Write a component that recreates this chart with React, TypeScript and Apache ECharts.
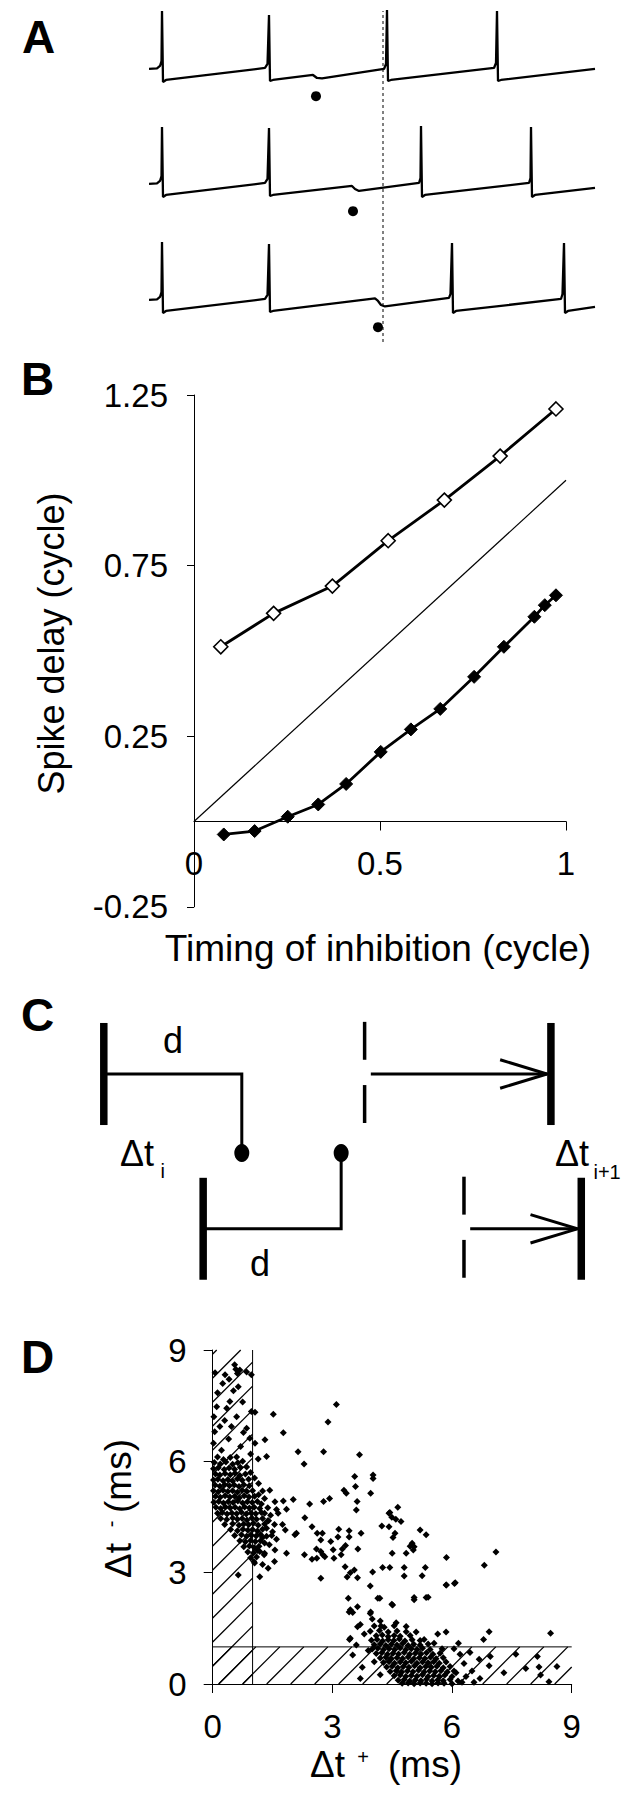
import React, { useEffect, useRef } from "react";
import * as echarts from "echarts";

const FONT = '"Liberation Sans", Arial, Helvetica, sans-serif';
const INK = "#000";

// ---------------- Panel A: membrane potential traces (time ms, V mV) ----------------
const traceTop: number[][] = [
  [0, -49.4], [2, -48.8], [2.75, -45.8], [3.125, -39.8], [3.25, 20.2], [3.5, -65], [4.25, -62.6],
  [29, -48.2], [29.625, -43.4], [30, 15.4], [30.25, -63.8], [31, -62.6],
  [41, -56.6], [42, -60.2], [43.25, -60.8],
  [58.75, -49.4], [59.25, -43.4], [59.5, 21.4], [59.75, -63.8], [60.5, -62.6],
  [86.25, -48.2], [86.75, -42.2], [87, 20.2], [87.25, -63.8], [88, -62.6], [111.5, -49.4],
];
const traceMiddle: number[][] = [
  [0, -49.4], [2, -48.8], [2.75, -45.8], [3.125, -39.8], [3.25, 19], [3.5, -65], [4.25, -62.6],
  [29, -48.2], [29.625, -43.4], [30, 17.8], [30.25, -63.8], [31, -62.6],
  [50.75, -51.8], [51.5, -55.4], [52.5, -57.8],
  [67.5, -48.2], [67.875, -42.2], [68, 20.2], [68.25, -65], [69, -62.6],
  [95, -48.2], [95.375, -42.2], [95.5, 19], [95.75, -65], [96.5, -62.6], [111.5, -54.2],
];
const traceBottom: number[][] = [
  [0, -49.4], [2, -48.8], [2.75, -45.8], [3.125, -39.8], [3.25, 20.2], [3.5, -65], [4.25, -62.6],
  [29, -48.2], [29.625, -43.4], [30, 17.8], [30.25, -63.8], [31, -62.6],
  [56.5, -47.6], [57.25, -50.6], [58, -55.4], [59, -57.2],
  [75, -47], [75.375, -42.2], [75.75, 19], [76, -65], [76.75, -62.6],
  [103, -48.2], [103.375, -42.2], [103.75, 19], [104, -65], [104.75, -62.6], [111.5, -57.8],
];
const inhibitionTimes = [41.75, 51, 57.25];
const inhibitionMarkLevel = -82;
const referenceSpikeTime = 58.5;

// ---------------- Panel B: phase response ----------------
const phaseOpen = [0.072, 0.214, 0.372, 0.522, 0.673, 0.823, 0.973];
const delayOpen = [0.512, 0.61, 0.69, 0.823, 0.942, 1.071, 1.209];
const phaseFilled = [0.08, 0.163, 0.252, 0.334, 0.409, 0.502, 0.583, 0.662, 0.753, 0.833, 0.915, 0.943, 0.973];
const delayFilled = [-0.038, -0.028, 0.014, 0.05, 0.11, 0.204, 0.27, 0.33, 0.424, 0.512, 0.6, 0.634, 0.663];
const identityLine = [[0, 0], [1, 1]];
const bYTicks = [-0.25, 0.25, 0.75, 1.25];

// ---------------- Panel C: schematic (time units, row levels) ----------------
const cRows = [1, 0.02];
const cSpikes = [0, 7.2];
const cDelay = 10;
const cSynapse = 0.5;
const cExpected = [18.9, 26.1];
const cActual = [32.4, 34.6];

// ---------------- Panel D: scatter (ms) ----------------
const dStripTop: number[][] = [
  [0.06, 8.39], [0.31, 8.33], [0.41, 8.21], [0.58, 8.48], [0.62, 8.37], [0.68, 8.46], [0.85, 8.41],
  [0.64, 8.01], [0.97, 8.33], [0.1, 7.47], [0.35, 7.43], [0.43, 7.61], [0.47, 6.94], [0.18, 6.94],
  [0.85, 6.89], [0.77, 6.78], [0.97, 7.34], [1.06, 7.32], [0.02, 6.49], [0.93, 6.62], [1.06, 6.49],
  [0.25, 8.1], [0.52, 7.9], [0.12, 7.85], [0.75, 7.6], [0.3, 7.1], [0.6, 7.2], [0.05, 6.8],
  [0.4, 6.6], [0.7, 6.4], [0.95, 6.2], [0.22, 6.3], [0.55, 8.6], [0.03, 7.2],
  [1.52, 7.27], [1.77, 6.77], [1.31, 6.58], [1.35, 6.13], [1.14, 6.06], [2.14, 6.26], [2.29, 5.93],
  [2.78, 6.26], [2.89, 7.06], [3.1, 7.53], [3.68, 6.18],
];
const dClusterEarly: number[][] = [
  [0.12, 6.12], [0.27, 6.05], [0.44, 6.1],
  [0.04, 5.97], [0.19, 5.93], [0.33, 5.98], [0.5, 5.92], [0.63, 5.96],
  [0.02, 5.8], [0.14, 5.83], [0.29, 5.78], [0.41, 5.82], [0.55, 5.79], [0.69, 5.84],
  [0.07, 5.66], [0.18, 5.63], [0.31, 5.67], [0.44, 5.64], [0.56, 5.68], [0.68, 5.62], [0.82, 5.66],
  [0.02, 5.5], [0.13, 5.52], [0.26, 5.48], [0.38, 5.51], [0.5, 5.47], [0.62, 5.53], [0.74, 5.49], [0.9, 5.52],
  [0.06, 5.36], [0.18, 5.33], [0.3, 5.37], [0.42, 5.34], [0.54, 5.36], [0.66, 5.32], [0.78, 5.37], [0.92, 5.34],
  [0.02, 5.21], [0.14, 5.18], [0.26, 5.22], [0.38, 5.19], [0.5, 5.21], [0.62, 5.17], [0.74, 5.22], [0.86, 5.19], [1.0, 5.21],
  [0.07, 5.06], [0.19, 5.03], [0.31, 5.07], [0.43, 5.04], [0.55, 5.06], [0.67, 5.02], [0.79, 5.07], [0.91, 5.04], [1.05, 5.06],
  [0.03, 4.9], [0.15, 4.92], [0.27, 4.88], [0.39, 4.91], [0.51, 4.89], [0.63, 4.93], [0.75, 4.88], [0.87, 4.91], [0.99, 4.89], [1.12, 4.92],
  [0.08, 4.76], [0.2, 4.73], [0.32, 4.77], [0.44, 4.74], [0.56, 4.76], [0.68, 4.72], [0.8, 4.77], [0.92, 4.74], [1.04, 4.76], [1.18, 4.73],
  [0.12, 4.6], [0.24, 4.62], [0.36, 4.58], [0.48, 4.61], [0.6, 4.59], [0.72, 4.63], [0.84, 4.58], [0.96, 4.61], [1.08, 4.59], [1.22, 4.62],
  [0.2, 4.46], [0.35, 4.43], [0.5, 4.47], [0.62, 4.44], [0.74, 4.46], [0.86, 4.42], [0.98, 4.47], [1.1, 4.44], [1.25, 4.46],
  [0.3, 4.3], [0.5, 4.32], [0.66, 4.28], [0.78, 4.31], [0.9, 4.29], [1.02, 4.33], [1.14, 4.28], [1.3, 4.31],
  [0.45, 4.16], [0.62, 4.13], [0.76, 4.17], [0.88, 4.14], [1.0, 4.16], [1.12, 4.12], [1.25, 4.17],
  [0.55, 4.0], [0.72, 4.02], [0.85, 3.98], [0.97, 4.01], [1.09, 3.99], [1.2, 4.03], [1.35, 3.98],
  [0.68, 3.86], [0.82, 3.83], [0.95, 3.87], [1.07, 3.84], [1.2, 3.86],
  [0.78, 3.7], [0.92, 3.72], [1.04, 3.68], [1.16, 3.71],
  [0.88, 3.56], [1.02, 3.53], [1.18, 3.57], [1.3, 3.52],
  [0.95, 3.4], [1.1, 3.42], [1.05, 3.26], [1.25, 3.22],
  [1.3, 5.0], [1.38, 4.75], [1.45, 4.55], [1.35, 4.2], [1.48, 4.0], [1.42, 3.75], [1.25, 5.2],
  [1.15, 5.4], [1.05, 5.55], [0.95, 5.7], [0.85, 5.85], [1.55, 4.3], [1.6, 4.7], [1.25, 3.95],
  [1.15, 5.1], [1.22, 4.85], [1.3, 4.6], [1.38, 4.4], [0.75, 6.0], [0.6, 6.12], [1.12, 3.6],
];
const dBridge: number[][] = [
  [3.56, 5.59], [4.02, 5.63], [4.02, 5.54], [3.96, 5.14], [3.29, 5.22], [3.35, 5.14], [3.58, 5.32],
  [3.62, 4.92], [3.6, 4.69], [2.93, 5.0], [2.78, 4.92], [2.43, 4.85], [2.02, 4.97], [2.31, 4.48],
  [1.85, 4.71], [1.77, 4.93], [1.56, 4.91], [1.43, 5.22], [1.64, 4.6], [1.82, 4.15], [2.1, 4.06],
  [2.06, 4.02], [2.49, 4.24], [2.62, 4.06], [2.75, 4.06], [2.71, 3.88], [2.96, 3.84], [3.16, 4.17],
  [3.42, 4.13], [3.72, 4.06], [3.14, 3.96], [3.42, 3.96], [3.33, 3.73], [3.64, 3.64], [3.25, 3.64],
  [2.6, 3.64], [4.24, 4.26], [4.42, 4.6], [4.64, 4.76], [4.44, 4.62], [4.59, 4.44], [4.49, 4.49],
  [4.72, 4.38], [4.42, 4.24], [4.57, 4.06], [4.52, 3.95], [5.2, 4.15], [5.35, 4.02], [5.0, 3.79],
  [5.05, 3.7], [5.03, 3.61], [5.86, 3.41], [7.1, 3.56], [6.81, 3.2], [6.06, 2.71], [5.86, 2.67],
  [5.33, 3.14], [5.25, 2.92], [4.8, 3.14], [4.8, 2.91], [4.44, 3.14], [4.26, 3.14], [4.01, 3.02],
  [3.95, 2.64], [4.19, 2.31], [4.51, 2.13], [5.05, 2.27], [5.4, 2.34], [4.85, 3.52], [4.95, 3.71],
  [4.5, 3.52], [3.63, 2.86], [3.55, 3.07], [3.45, 3.0], [3.32, 3.16], [3.22, 3.48], [3.04, 3.39],
  [3.02, 3.62], [2.71, 3.57], [2.81, 3.43], [2.76, 3.48], [2.61, 3.39], [2.49, 3.36], [2.3, 3.48],
  [2.71, 2.85], [3.37, 2.88], [3.4, 2.31], [3.45, 2.0], [3.51, 1.93], [3.63, 2.08], [3.63, 1.54],
  [3.95, 1.9], [4.22, 1.56], [3.45, 1.23], [1.18, 2.89], [1.03, 3.3], [1.39, 3.12], [1.29, 3.48],
  [1.56, 3.61], [1.85, 3.52], [1.4, 4.4], [1.5, 4.1], [1.6, 3.9], [1.3, 3.8], [1.75, 4.3], [1.55, 3.3],
  [0.64, 2.94],
];
const dClusterLate: number[][] = [
  [4.05, 1.56], [4.3, 1.53], [4.55, 1.57],
  [3.95, 1.42], [4.18, 1.44], [4.4, 1.4], [4.62, 1.43], [4.85, 1.41],
  [4.1, 1.3], [4.25, 1.32], [4.4, 1.28], [4.55, 1.31], [4.7, 1.29], [4.95, 1.31],
  [3.98, 1.18], [4.12, 1.2], [4.26, 1.16], [4.4, 1.19], [4.54, 1.17], [4.68, 1.21], [4.82, 1.16], [5.0, 1.19], [5.2, 1.17],
  [4.05, 1.06], [4.2, 1.08], [4.34, 1.04], [4.48, 1.07], [4.62, 1.05], [4.76, 1.09], [4.9, 1.04], [5.04, 1.07], [5.2, 1.05], [5.4, 1.08],
  [4.0, 0.94], [4.14, 0.96], [4.28, 0.92], [4.42, 0.95], [4.56, 0.93], [4.7, 0.97], [4.84, 0.92], [4.98, 0.95], [5.12, 0.93], [5.26, 0.96], [5.45, 0.93],
  [4.1, 0.82], [4.24, 0.84], [4.38, 0.8], [4.52, 0.83], [4.66, 0.81], [4.8, 0.85], [4.94, 0.8], [5.08, 0.83], [5.22, 0.81], [5.36, 0.84], [5.52, 0.8], [5.7, 0.83],
  [4.2, 0.7], [4.34, 0.72], [4.48, 0.68], [4.62, 0.71], [4.76, 0.69], [4.9, 0.73], [5.04, 0.68], [5.18, 0.71], [5.32, 0.69], [5.46, 0.72], [5.6, 0.68], [5.78, 0.71],
  [4.28, 0.58], [4.42, 0.6], [4.56, 0.56], [4.7, 0.59], [4.84, 0.57], [4.98, 0.61], [5.12, 0.56], [5.26, 0.59], [5.4, 0.57], [5.54, 0.6], [5.68, 0.56], [5.85, 0.59],
  [4.36, 0.46], [4.5, 0.48], [4.64, 0.44], [4.78, 0.47], [4.92, 0.45], [5.06, 0.49], [5.2, 0.44], [5.34, 0.47], [5.48, 0.45], [5.62, 0.48], [5.78, 0.44], [5.95, 0.47],
  [4.45, 0.34], [4.6, 0.36], [4.74, 0.32], [4.88, 0.35], [5.02, 0.33], [5.16, 0.37], [5.3, 0.32], [5.44, 0.35], [5.58, 0.33], [5.72, 0.36], [5.88, 0.32], [6.05, 0.35],
  [4.55, 0.22], [4.7, 0.24], [4.84, 0.2], [4.98, 0.23], [5.12, 0.21], [5.26, 0.25], [5.4, 0.2], [5.54, 0.23], [5.68, 0.21], [5.82, 0.24], [6.0, 0.2],
  [4.65, 0.1], [4.8, 0.12], [4.94, 0.08], [5.08, 0.11], [5.22, 0.09], [5.36, 0.13], [5.5, 0.08], [5.64, 0.11], [5.78, 0.09], [5.95, 0.12], [6.15, 0.08],
  [4.75, 0.02], [4.9, 0.03], [5.05, 0.01], [5.2, 0.03], [5.35, 0.02], [5.5, 0.01], [5.65, 0.03], [5.8, 0.02], [6.0, 0.01],
  [3.43, 1.2], [3.51, 0.78], [3.7, 0.15], [3.6, 1.05], [3.42, 1.94], [3.96, 1.94], [4.14, 2.31], [4.49, 2.15],
  [5.05, 2.33], [5.35, 2.33], [5.85, 2.67], [6.08, 2.73], [3.7, 1.6], [3.8, 1.35], [4.0, 1.75], [4.2, 1.7],
  [3.9, 0.9], [4.05, 0.6], [4.2, 0.25], [3.75, 0.45], [4.6, 1.65], [4.85, 1.55], [5.1, 1.4], [5.3, 1.2],
  [5.55, 1.1], [5.75, 0.95],
];
const dStripRight: number[][] = [
  [6.93, 1.41], [6.79, 1.2], [6.96, 0.74], [6.93, 0.49], [6.68, 0.67], [6.5, 0.35], [6.3, 0.55],
  [6.35, 0.2], [6.55, 0.05], [7.85, 0.42], [8.14, 0.74], [8.18, 0.46], [8.63, 0.47], [8.43, 0.06],
  [8.22, 0.24], [8.47, 1.37], [6.2, 0.8], [6.05, 0.95], [5.85, 1.4], [6.16, 1.1], [5.64, 1.35],
  [7.3, 0.3], [7.6, 0.8], [6.45, 0.85], [6.7, 0.15], [6.1, 0.3], [6.25, 0.05],
];
const dHatchRegions = [[0, 1, 0, 9], [0, 9, 0, 1]];
const dHatchBorders = [[[1, 0], [1, 9]], [[0, 1], [9, 1]]];

// ---------------- helpers ----------------
const hiddenAxis = (gridIndex: number, min: number, max: number) => ({
  type: "value", gridIndex, min, max, show: false, splitLine: { show: false },
});

const txt = (text: string, x: number, y: number, size: number, align = "left", weight = "normal") => ({
  type: "text", x, y, z: 50, silent: true,
  style: { text, fill: INK, fontSize: size, fontFamily: FONT, fontWeight: weight, align, verticalAlign: "middle" },
});

const cSeg = (data: number[][], width: number) => ({
  type: "line", xAxisIndex: 5, yAxisIndex: 5, data, symbol: "none", showSymbol: false,
  lineStyle: { color: INK, width, cap: "butt", join: "miter" }, silent: true, z: 2,
});

function buildOption() {
  const series: any[] = [];
  const tracesList = [traceTop, traceMiddle, traceBottom];
  tracesList.forEach((tr, i) => {
    series.push({
      type: "line", xAxisIndex: i, yAxisIndex: i, data: tr, symbol: "none", showSymbol: false,
      lineStyle: { color: INK, width: 2.3 }, silent: true,
    });
    series.push({
      type: "scatter", xAxisIndex: i, yAxisIndex: i, data: [[inhibitionTimes[i], inhibitionMarkLevel]],
      symbol: "circle", symbolSize: 10, itemStyle: { color: INK, opacity: 1 }, silent: true,
    });
  });
  series.push({
    type: "line", xAxisIndex: 3, yAxisIndex: 3, data: [[referenceSpikeTime, 0], [referenceSpikeTime, 1]],
    symbol: "none", lineStyle: { color: INK, width: 1, type: [3, 3] }, silent: true,
  });

  // Panel B
  series.push({
    type: "line", xAxisIndex: 4, yAxisIndex: 4, data: identityLine, symbol: "none",
    lineStyle: { color: INK, width: 1.2 }, silent: true,
  });
  series.push({
    type: "line", xAxisIndex: 4, yAxisIndex: 4, data: phaseOpen.map((x, i) => [x, delayOpen[i]]),
    symbol: "diamond", symbolSize: 14, showSymbol: true,
    itemStyle: { color: "#fff", borderColor: INK, borderWidth: 1.6, opacity: 1 },
    lineStyle: { color: INK, width: 2.8 }, silent: true, z: 3,
  });
  series.push({
    type: "line", xAxisIndex: 4, yAxisIndex: 4, data: phaseFilled.map((x, i) => [x, delayFilled[i]]),
    symbol: "diamond", symbolSize: 13, showSymbol: true,
    itemStyle: { color: INK, borderColor: INK, borderWidth: 1, opacity: 1 },
    lineStyle: { color: INK, width: 2.8 }, silent: true, z: 3,
  });

  // Panel C
  const barHalf = 0.323;
  cRows.forEach((row, i) => {
    const s = cSpikes[i];
    const e = cExpected[i];
    const a = cActual[i];
    series.push(cSeg([[s, row - barHalf], [s, row + barHalf]], 7.5));
    series.push(cSeg([[s, row], [s + cDelay, row], [s + cDelay, cSynapse]], 3));
    series.push(cSeg([[e, row + 0.09], [e, row + 0.33]], 3.5));
    series.push(cSeg([[e, row - 0.07], [e, row - 0.31]], 3.5));
    const tip = a - 0.28;
    series.push(cSeg([[e + 0.45, row], [tip, row]], 3));
    series.push(cSeg([[tip - 3.4, row + 0.09], [tip, row], [tip - 3.4, row - 0.09]], 3));
    series.push(cSeg([[a, row - barHalf], [a, row + barHalf]], 7.5));
  });
  series.push({
    type: "scatter", xAxisIndex: 5, yAxisIndex: 5,
    data: cSpikes.map((s) => [s + cDelay, cSynapse]),
    symbol: "circle", symbolSize: [15, 18], itemStyle: { color: INK, opacity: 1 }, silent: true, z: 3,
  });

  // Panel D
  series.push({
    type: "custom", xAxisIndex: 6, yAxisIndex: 6, data: dHatchRegions, silent: true, z: 1,
    renderItem: (params: any, api: any) => {
      const x0 = api.value(0), x1 = api.value(1), y0 = api.value(2), y1 = api.value(3);
      const tl = api.coord([x0, y1]);
      const br = api.coord([x1, y0]);
      const org = api.coord([0, 0]);
      const L = tl[0], T = tl[1], R = br[0], B = br[1];
      const S = 24;
      const base = org[0] + org[1];
      const kMin = Math.floor((L + T - base) / S);
      const kMax = Math.ceil((R + B - base) / S);
      const children: any[] = [];
      for (let k = kMin; k <= kMax; k++) {
        const c = base + k * S + 6;
        const xa = Math.max(L, c - B);
        const xb = Math.min(R, c - T);
        if (xb - xa > 0.5) {
          children.push({
            type: "line",
            shape: { x1: xa, y1: c - xa, x2: xb, y2: c - xb },
            style: { stroke: INK, lineWidth: 1.3 },
          });
        }
      }
      return { type: "group", children };
    },
  });
  dHatchBorders.forEach((seg) => {
    series.push({
      type: "line", xAxisIndex: 6, yAxisIndex: 6, data: seg, symbol: "none",
      lineStyle: { color: INK, width: 1 }, silent: true, z: 2,
    });
  });
  series.push({
    type: "scatter", xAxisIndex: 6, yAxisIndex: 6,
    data: [...dStripTop, ...dClusterEarly, ...dBridge, ...dClusterLate, ...dStripRight],
    symbol: "diamond", symbolSize: 7, itemStyle: { color: INK, opacity: 1 }, silent: true, z: 3,
  });

  const axisLineStyle = { color: INK, width: 1 };
  const labelStyle = { color: INK, fontSize: 33, fontFamily: FONT };

  const xAxis: any[] = [
    hiddenAxis(0, 0, 111.5), hiddenAxis(1, 0, 111.5), hiddenAxis(2, 0, 111.5), hiddenAxis(3, 0, 111.5),
    hiddenAxis(4, 0, 1),
    hiddenAxis(5, -1, 35.667),
    {
      type: "value", gridIndex: 6, min: 0, max: 9, interval: 3,
      axisLine: { show: true, onZero: false, lineStyle: axisLineStyle },
      axisTick: { show: true, length: 9, lineStyle: axisLineStyle },
      axisLabel: { ...labelStyle, margin: 26 },
      splitLine: { show: false },
    },
    {
      type: "value", gridIndex: 7, min: 0, max: 1, interval: 0.5,
      axisLine: { show: true, onZero: false, lineStyle: axisLineStyle },
      axisTick: { show: true, length: 9, lineStyle: axisLineStyle },
      axisLabel: { ...labelStyle, margin: 25 },
      splitLine: { show: false },
    },
  ];
  const yAxis: any[] = [
    hiddenAxis(0, -90, 30), hiddenAxis(1, -90, 30), hiddenAxis(2, -90, 30), hiddenAxis(3, 0, 1),
    {
      type: "value", gridIndex: 4, min: -0.25, max: 1.25, interval: 0.25,
      axisLine: { show: true, onZero: false, lineStyle: axisLineStyle },
      axisTick: { show: true, length: 7, lineStyle: axisLineStyle, customValues: bYTicks },
      axisLabel: {
        ...labelStyle, margin: 26, customValues: bYTicks,
        formatter: (v: number) => (bYTicks.some((t) => Math.abs(t - v) < 1e-6) ? v.toFixed(2) : ""),
      },
      splitLine: { show: false },
    },
    hiddenAxis(5, -0.5, 1.5),
    {
      type: "value", gridIndex: 6, min: 0, max: 9, interval: 3,
      axisLine: { show: true, onZero: false, lineStyle: axisLineStyle },
      axisTick: { show: true, length: 9, lineStyle: axisLineStyle },
      axisLabel: { ...labelStyle, margin: 26 },
      splitLine: { show: false },
    },
    hiddenAxis(7, 0, 1.25),
  ];

  const graphic: any[] = [
    txt("A", 22, 37, 46, "left", "bold"),
    txt("B", 21, 378.5, 46, "left", "bold"),
    txt("C", 21, 1015, 46, "left", "bold"),
    txt("D", 21, 1357, 46, "left", "bold"),
    txt("Timing of inhibition (cycle)", 378, 948, 37, "center"),
    {
      type: "group", x: 51, y: 643.5, rotation: Math.PI / 2,
      children: [txt("Spike delay (cycle)", 0, 0, 36, "center")],
    },
    txt("d", 173, 1040, 36, "center"),
    txt("d", 260, 1263, 36, "center"),
    txt("Δt", 120, 1153, 36, "left"),
    txt("i", 162.6, 1171, 20, "center"),
    txt("Δt", 555, 1153, 36, "left"),
    txt("i+1", 593.5, 1172, 20, "left"),
    {
      type: "group", x: 310, y: 1764,
      children: [
        txt("Δt", 0, 0, 37, "left"),
        txt("+", 53, -7, 20, "center"),
        txt("(ms)", 78, 0, 37, "left"),
      ],
    },
    {
      type: "group", x: 118.5, y: 1578, rotation: Math.PI / 2,
      children: [
        txt("Δt", 0, 0, 37, "left"),
        txt("-", 54, -7.5, 20, "center"),
        txt("(ms)", 65, 0, 37, "left"),
      ],
    },
  ];

  return {
    animation: false,
    backgroundColor: "#fff",
    textStyle: { fontFamily: FONT },
    grid: [
      { left: 149, top: 2.8, width: 446, height: 100 },
      { left: 149, top: 117.8, width: 446, height: 100 },
      { left: 149, top: 233.8, width: 446, height: 100 },
      { left: 149, top: 11, width: 446, height: 331 },
      { left: 194, top: 395, width: 372, height: 511.8 },
      { left: 90, top: 995, width: 506, height: 316 },
      { left: 212.7, top: 1350, width: 359, height: 334 },
      { left: 194, top: 395, width: 372, height: 426.5 },
    ],
    xAxis,
    yAxis,
    series,
    graphic,
  };
}

export default function App() {
  const ref = useRef<HTMLDivElement>(null);
  useEffect(() => {
    document.body.style.margin = "0";
    if (!ref.current) return;
    const chart = echarts.init(ref.current, null, { renderer: "svg", width: 636, height: 1800 });
    chart.setOption(buildOption() as any);
    return () => chart.dispose();
  }, []);
  return <div ref={ref} style={{ width: 636, height: 1800, background: "#fff" }} />;
}
